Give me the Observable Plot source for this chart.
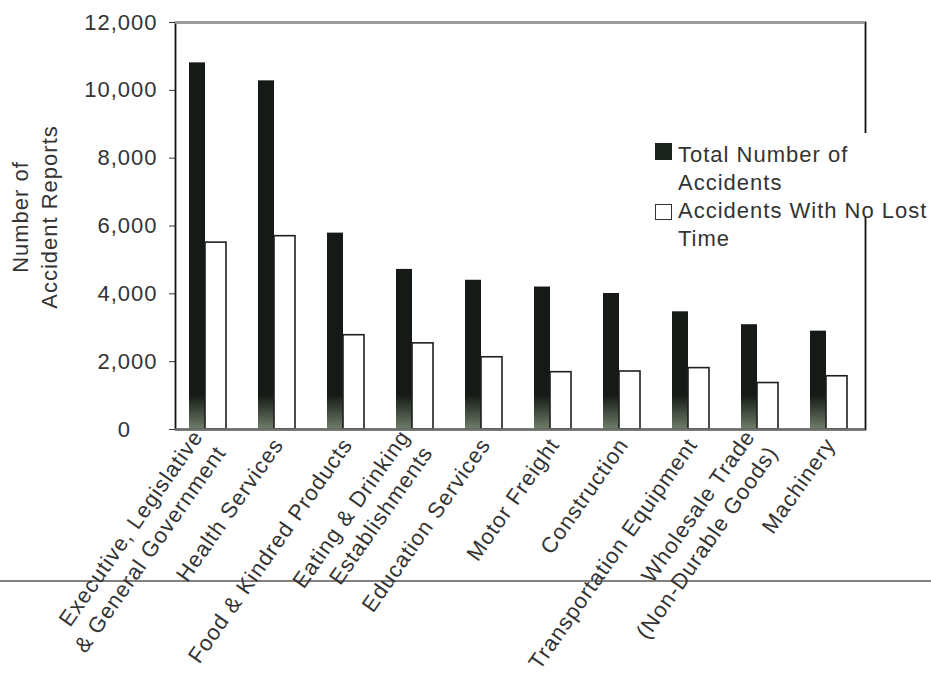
<!DOCTYPE html>
<html>
<head>
<meta charset="utf-8">
<script src="https://cdn.jsdelivr.net/npm/d3@7"></script>
<script src="https://cdn.jsdelivr.net/npm/@observablehq/plot@0.6"></script>
<style>
  body { margin: 0; background: #fff; }
  #wrap { position: relative; width: 931px; height: 681px; overflow: hidden;
          font-family: "Liberation Sans", Arial, sans-serif; color: #333; }
  #scanline { position: absolute; left: 0; top: 580px; width: 931px; height: 2px; background: #858080; }
  #chart { position: absolute; left: 0; top: 0; }
  #chart svg text { letter-spacing: 1px; fill: #333; }
  #mask { position: absolute; left: 857px; top: 133px; width: 16px; height: 84px; background: #fff; }
  #ytitle { position: absolute; left: -65px; top: 188px; width: 200px; height: 58px;
            transform: rotate(-90deg); transform-origin: 50% 50%;
            font-size: 22px; line-height: 29px; letter-spacing: 1px; text-align: center; white-space: pre; }
  #legend { position: absolute; left: 655px; top: 141px; width: 276px; font-size: 22px;
            line-height: 28px; letter-spacing: 1px; }
  .item { position: relative; padding-left: 23px; width: 253px; }
  .sw { position: absolute; left: 0; box-sizing: border-box; }
  .sw.dark { top: 2px; width: 17px; height: 17px; background: #1c231d; }
  .sw.light { top: 7px; width: 17px; height: 16px; background: #fff; border: 1.6px solid #333; }
</style>
</head>
<body>
<div id="wrap">
  <div id="scanline"></div>
  <div id="chart"></div>
  <div id="mask"></div>
  <div id="ytitle"></div>
  <div id="legend"></div>
</div>
<script>
// ---- data ----
const categories = [
  "Executive, Legislative\n& General Government",
  "Health Services",
  "Food & Kindred Products",
  "Eating & Drinking\nEstablishments",
  "Education Services",
  "Motor Freight",
  "Construction",
  "Transportation Equipment",
  "Wholesale Trade\n(Non-Durable Goods)",
  "Machinery"
];
const totalAccidents = [10810, 10280, 5790, 4720, 4400, 4200, 4010, 3470, 3090, 2900];
const noLostTime     = [5510, 5700, 2780, 2540, 2130, 1690, 1710, 1810, 1370, 1570];
const seriesNames = ["Total Number of Accidents", "Accidents With No Lost Time"];
const yTicks = [0, 2000, 4000, 6000, 8000, 10000, 12000];
const yTitle = "Number of\nAccident Reports";

// ---- table ----
const rows = categories.map((c, i) => ({category: c, total: totalAccidents[i], noLost: noLostTime[i]}));

const comma = d3.format(",");
// the scanned chart prints its zero label with a trailing two-digit gap
const yFormat = d => d === 0 ? "0\u2007\u2007" : comma(d);

const chart = Plot.plot({
  width: 931,
  height: 681,
  marginTop: 22,
  marginBottom: 252,
  marginLeft: 175,
  marginRight: 66,
  style: {background: "transparent", fontFamily: "Liberation Sans, Arial, sans-serif", fontSize: "22px", color: "#333"},
  x: {domain: categories, range: [175, 860], paddingInner: 0.465, paddingOuter: 0.188},
  y: {domain: [0, 12000]},
  marks: [
    Plot.barY(rows, {x: "category", y: "total", fill: "url(#blackFade)", insetRight: 21}),
    Plot.barY(rows, {x: "category", y: "noLost", fill: "white", stroke: "#1e1e1e", strokeWidth: 1.6, insetLeft: 16}),
    Plot.frame({stroke: "#111", strokeWidth: 1.8}),
    Plot.ruleY([12000], {stroke: "#9a9d97", strokeWidth: 2.6}),
    Plot.ruleY([0], {stroke: "#6d706b", strokeWidth: 2.6}),
    Plot.axisY({ticks: yTicks, tickFormat: yFormat, tickSize: 6, tickPadding: 12, label: null, fontSize: 22}),
    Plot.axisX({tickRotate: -55, tickSize: 0, tickPadding: 10, label: null, fontSize: 22, lineHeight: 1.27})
  ]
});

// gradient for the dark bars (fade near the baseline, as in the scan)
const y0 = chart.scale("y").apply(0);
const ns = "http://www.w3.org/2000/svg";
const defs = document.createElementNS(ns, "defs");
defs.innerHTML = `<linearGradient id="blackFade" gradientUnits="userSpaceOnUse" x1="0" y1="${y0 - 34}" x2="0" y2="${y0}">
  <stop offset="0" stop-color="#151a16"/><stop offset="1" stop-color="#6f7d68"/></linearGradient>`;
chart.insertBefore(defs, chart.firstChild);
document.getElementById("chart").appendChild(chart);

// y title
document.getElementById("ytitle").textContent = yTitle;

// legend
const legend = document.getElementById("legend");
seriesNames.forEach((name, i) => {
  const item = document.createElement("div");
  item.className = "item";
  const sw = document.createElement("span");
  sw.className = "sw " + (i === 0 ? "dark" : "light");
  item.appendChild(sw);
  item.appendChild(document.createTextNode(name));
  legend.appendChild(item);
});
</script>
</body>
</html>
